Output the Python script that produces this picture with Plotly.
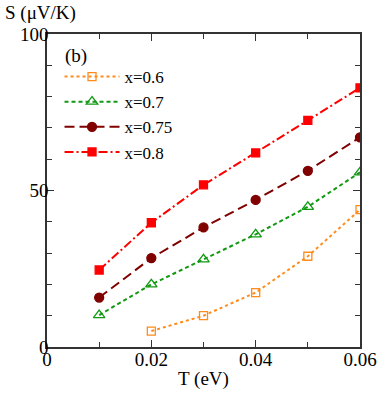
import plotly.graph_objects as go

T = [0.01, 0.02, 0.03, 0.04, 0.05, 0.06]
T_06 = [0.02, 0.03, 0.04, 0.05, 0.06]
S_06 = [5.1, 10.0, 17.4, 29.0, 43.9]
S_07 = [10.2, 20.0, 28.0, 36.0, 44.8, 55.8]
S_075 = [15.8, 28.4, 38.2, 47.0, 56.3, 67.0]
S_08 = [24.6, 39.7, 51.8, 62.0, 72.4, 82.8]

series = [
    ("x=0.6", T_06, S_06, "#ff8c1a", "dot", "square-open", 8),
    ("x=0.7", T, S_07, "#119911", "4px,3px", "triangle-up-open", 10),
    ("x=0.75", T, S_075, "#800000", "10px,5px", "circle", 9),
    ("x=0.8", T, S_08, "#ff0000", "9px,3px,2px,3px", "square", 8),
]

font = "Liberation Serif"

fig = go.Figure()
for name, xs, ys, color, dash, sym, size in series:
    fig.add_trace(go.Scatter(
        x=xs, y=ys, name=name, mode="lines+markers",
        line=dict(color=color, width=2, dash=dash),
        marker=dict(symbol=sym, size=size, color=color,
                    line=dict(color=color, width=1.3)),
    ))

axis_common = dict(
    showline=True, linecolor="#333", linewidth=1.5, mirror="allticks",
    ticks="inside", ticklen=7, tickwidth=1.2, tickcolor="#333",
    showgrid=False, zeroline=False, automargin=False,
    ticklabeloverflow="allow",
    tickfont=dict(family=font, size=19, color="black"),
)

fig.update_layout(
    width=382, height=397,
    margin=dict(l=47, r=22, t=34, b=50),
    plot_bgcolor="white", paper_bgcolor="white",
    font=dict(family=font, size=18, color="black"),
    xaxis=dict(range=[0, 0.06], tickvals=[0, 0.02, 0.04, 0.06],
               ticktext=["0", "0.02", "0.04", "0.06"],
               ticklabelstandoff=-6,
               minor=dict(tickvals=[0.01, 0.03, 0.05], ticks="inside",
                          ticklen=5, tickcolor="#333"),
               title=dict(text="T (eV)", font=dict(family=font, size=19),
                          standoff=3),
               **axis_common),
    yaxis=dict(range=[0, 100], tickvals=[0, 50, 100],
               ticklabelstandoff=-7,
               minor=dict(tickvals=[10, 20, 30, 40, 60, 70, 80, 90],
                          ticks="inside", ticklen=5, tickcolor="#333"),
               **axis_common),
    legend=dict(x=0.04, y=0.92, xanchor="left", yanchor="top",
                bgcolor="rgba(0,0,0,0)", tracegroupgap=0, itemwidth=55,
                font=dict(family=font, size=17)),
    annotations=[
        dict(text="S (\u03bcV/K)", x=0, y=1, xref="paper", yref="paper",
             xshift=-44, yshift=21, xanchor="left", yanchor="middle",
             showarrow=False, font=dict(family=font, size=19)),
        dict(text="(b)", x=0.052, y=0.931, xref="paper", yref="paper",
             xanchor="left", yanchor="middle", showarrow=False,
             font=dict(family=font, size=19)),
    ],
)

# drop the default 8px body margin so the figure fills the window exactly
fig.write_html("out.html", config={"displayModeBar": False},
               post_script="document.body.style.margin='0';")
